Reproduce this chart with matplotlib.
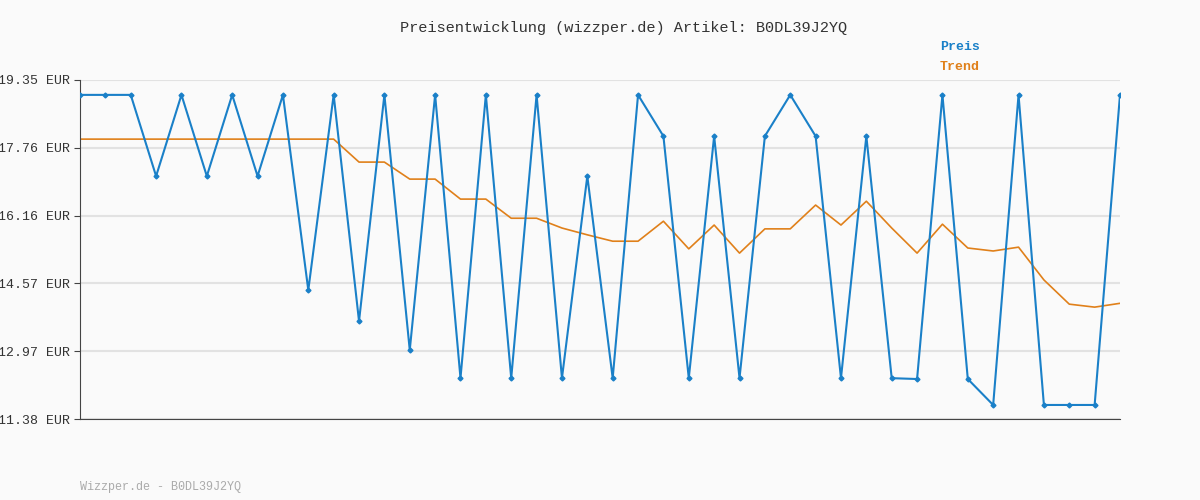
import matplotlib
matplotlib.use("Agg")
import matplotlib.pyplot as plt

preis = [19.0,19.0,19.0,17.09,19.0,17.09,19.0,17.09,19.0,14.41,19.0,13.68,19.0,13.0,19.0,12.34,19.0,12.34,19.0,12.34,
         17.09,12.34,19.0,18.03,12.34,18.03,12.34,18.03,19.0,18.03,12.34,18.03,12.34,12.32,19.0,12.32,11.71,19.0,11.71,11.71,11.71,19.0]
trend = [17.96]*11 + [17.42,17.42,17.02,17.02,16.55,16.55,16.1,16.1,15.87,15.71,15.56,15.56,16.03,15.38,15.94,15.28,15.85,15.85,
         16.41,15.94,16.5,15.87,15.28,15.96,15.4,15.33,15.42,14.65,14.08,14.01,14.1]
yticks = [11.38,12.97,14.57,16.16,17.76,19.35]
title = "Preisentwicklung (wizzper.de) Artikel: B0DL39J2YQ"

mono = ["Liberation Mono", "DejaVu Sans Mono"]
fig = plt.figure(figsize=(12,5), dpi=100, facecolor="#fafafa")
ax = fig.add_axes([80/1200, 81/500, 1040/1200, 339/500])
ax.set_facecolor("#fafafa")
x = list(range(len(preis)))
ax.plot(x, trend, color="#e0801a", lw=1.2, zorder=2)
ax.plot(x, preis, color="#1a80c8", lw=1.5, marker="D", ms=2.5, zorder=3)
ax.set_xlim(0, len(preis)-1)
ax.set_ylim(11.38, 19.35)
ax.set_yticks(yticks)
ax.set_yticklabels([f"{v:.2f} EUR" for v in yticks], fontfamily=mono, fontsize=9.5, color="#333333")
ax.set_xticks([])
ax.grid(axis="y", color="#e2e2e2", lw=1.5)
for s in ["top","right"]:
    ax.spines[s].set_visible(False)
ax.spines["left"].set_color("#444444")
ax.spines["bottom"].set_color("#444444")
ax.tick_params(axis="y", length=4, color="#444444")
fig.text(0.52, 1-28/500, title, ha="center", va="center", fontfamily=mono, fontsize=11, color="#333333")
fig.text(940/1200, 1-47/500, "Preis", ha="left", va="center", fontfamily=mono, fontsize=9.5, fontweight="bold", color="#1a80c8")
fig.text(940/1200, 1-67/500, "Trend", ha="left", va="center", fontfamily=mono, fontsize=9.5, fontweight="bold", color="#e0801a")
fig.text(80/1200, 1-487/500, "Wizzper.de - B0DL39J2YQ", ha="left", va="center", fontfamily=mono, fontsize=8.5, color="#aaaaaa")
fig.savefig("out.png", dpi=100, facecolor=fig.get_facecolor())
